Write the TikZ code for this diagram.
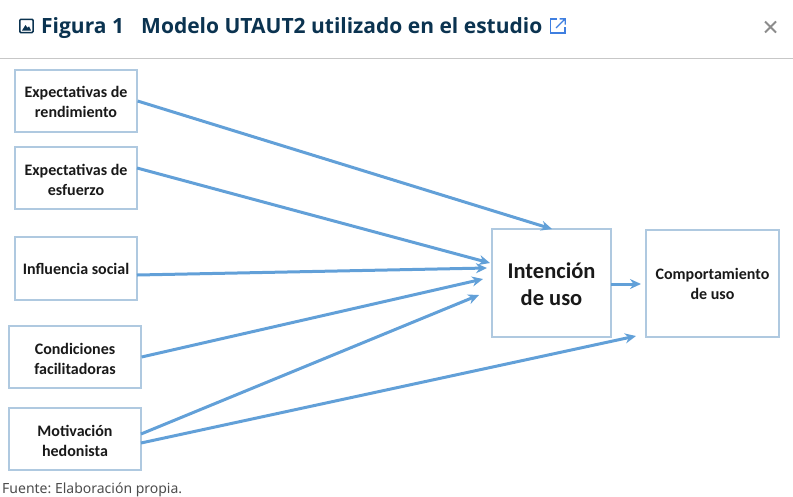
\documentclass[tikz,border=0pt]{standalone}
\usepackage{fontspec}
\usepackage{xcolor}
\setmainfont{Noto Sans}
\newfontfamily\boxfont{Carlito}
\newfontfamily\headfont{Open Sans}
\usetikzlibrary{arrows.meta}
\definecolor{titlenavy}{HTML}{0B3350}
\definecolor{linkblue}{HTML}{3F7FE0}
\definecolor{arrowblue}{HTML}{62A0D8}
\definecolor{boxedge}{HTML}{AFC9E0}
\newcommand{\toproom}[1]{\rule{0pt}{#1pt}}
\tikzset{
  factorbox/.style={draw=boxedge,line width=1.2pt,fill=white,inner sep=0pt,align=center,
    text=black!90,font=\boxfont\bfseries\fontsize{16}{20}\selectfont},
  flow/.style={draw=arrowblue,line width=3pt,-{Stealth[length=11pt,width=10pt]}},
  headtext/.style={anchor=base west,text=titlenavy,inner sep=0pt,font=\headfont\bfseries\fontsize{21}{24}\selectfont}
}
\begin{document}
\begin{tikzpicture}[x=1pt,y=-1pt]
\useasboundingbox (0,0) rectangle (793,496);
% heading
\draw[draw=titlenavy,line width=1.5pt,fill=white,rounded corners=1pt] (19.8,19.3) rectangle (33,32.5);
\fill[titlenavy] (22,30.5) -- (25.5,25) -- (27.5,27.8) -- (29,26.3) -- (31,30.5) -- cycle;
\node[headtext] (figlabel) at (41,33) {Figura 1};
\node[headtext] (figtitle) at (141,33) {Modelo UTAUT2 utilizado en el estudio};
\draw[linkblue,line width=1.4pt] (557,19) -- (550.5,19) -- (550.5,33) -- (565,33) -- (565,27);
\draw[linkblue,line width=1.4pt] (556,28) -- (564.5,19.5) (559.5,18.8) -- (565.2,18.8) -- (565.2,24.5);
\draw[black!45,line width=2pt] (765,21.5) -- (776,32.5) (776,21.5) -- (765,32.5);
\draw[black!22,line width=1pt] (0,58.5) -- (793,58.5);
% factors
\node[factorbox,minimum width=122pt,minimum height=62pt] (rendimiento) at (76,101) {\toproom{13}Expectativas de\\rendimiento};
\node[factorbox,minimum width=122pt,minimum height=62pt] (esfuerzo) at (76,178) {\toproom{15}Expectativas de\\esfuerzo};
\node[factorbox,minimum width=122pt,minimum height=63pt] (social) at (76,268.5) {Influencia social};
\node[factorbox,minimum width=132pt,minimum height=62pt] (condiciones) at (75,357) {\toproom{15}Condiciones\\facilitadoras};
\node[factorbox,minimum width=132pt,minimum height=62pt] (hedonista) at (75,439) {\toproom{16}Motivación\\hedonista};
\node[factorbox,minimum width=119pt,minimum height=108pt,font=\boxfont\bfseries\fontsize{22.5}{27}\selectfont] (intencion) at (551.5,283) {\toproom{19}Intención\\de uso};
\node[factorbox,minimum width=133pt,minimum height=107pt] (comportamiento) at (712.5,283.5) {Comportamiento\\de uso};
% arrow ends
\coordinate (esfuerzoout) at (137,168);
\coordinate (socialout) at (137,275);
\coordinate (hedoA) at (141,434);
\coordinate (hedoB) at (141,443);
\coordinate (intA) at (552,229);
\coordinate (intB) at (490,263);
\coordinate (intC) at (487,268);
\coordinate (intD) at (483,279);
\coordinate (intE) at (479,295);
\coordinate (compA) at (611,284);
\coordinate (compB) at (641,284);
\coordinate (compC) at (636,336);
\draw[flow] (rendimiento.east) -- (intA);
\draw[flow] (esfuerzoout) -- (intB);
\draw[flow] (socialout) -- (intC);
\draw[flow] (condiciones.east) -- (intD);
\draw[flow] (hedoA) -- (intE);
\draw[flow] (hedoB) -- (compC);
\draw[flow] (compA) -- (compB);
% source
\node[anchor=base west,inner sep=0pt,text=black!70,font=\frenchspacing\fontsize{14}{16}\selectfont] (fuente) at (2,493) {Fuente: Elaboración propia.};
\end{tikzpicture}
\end{document}
